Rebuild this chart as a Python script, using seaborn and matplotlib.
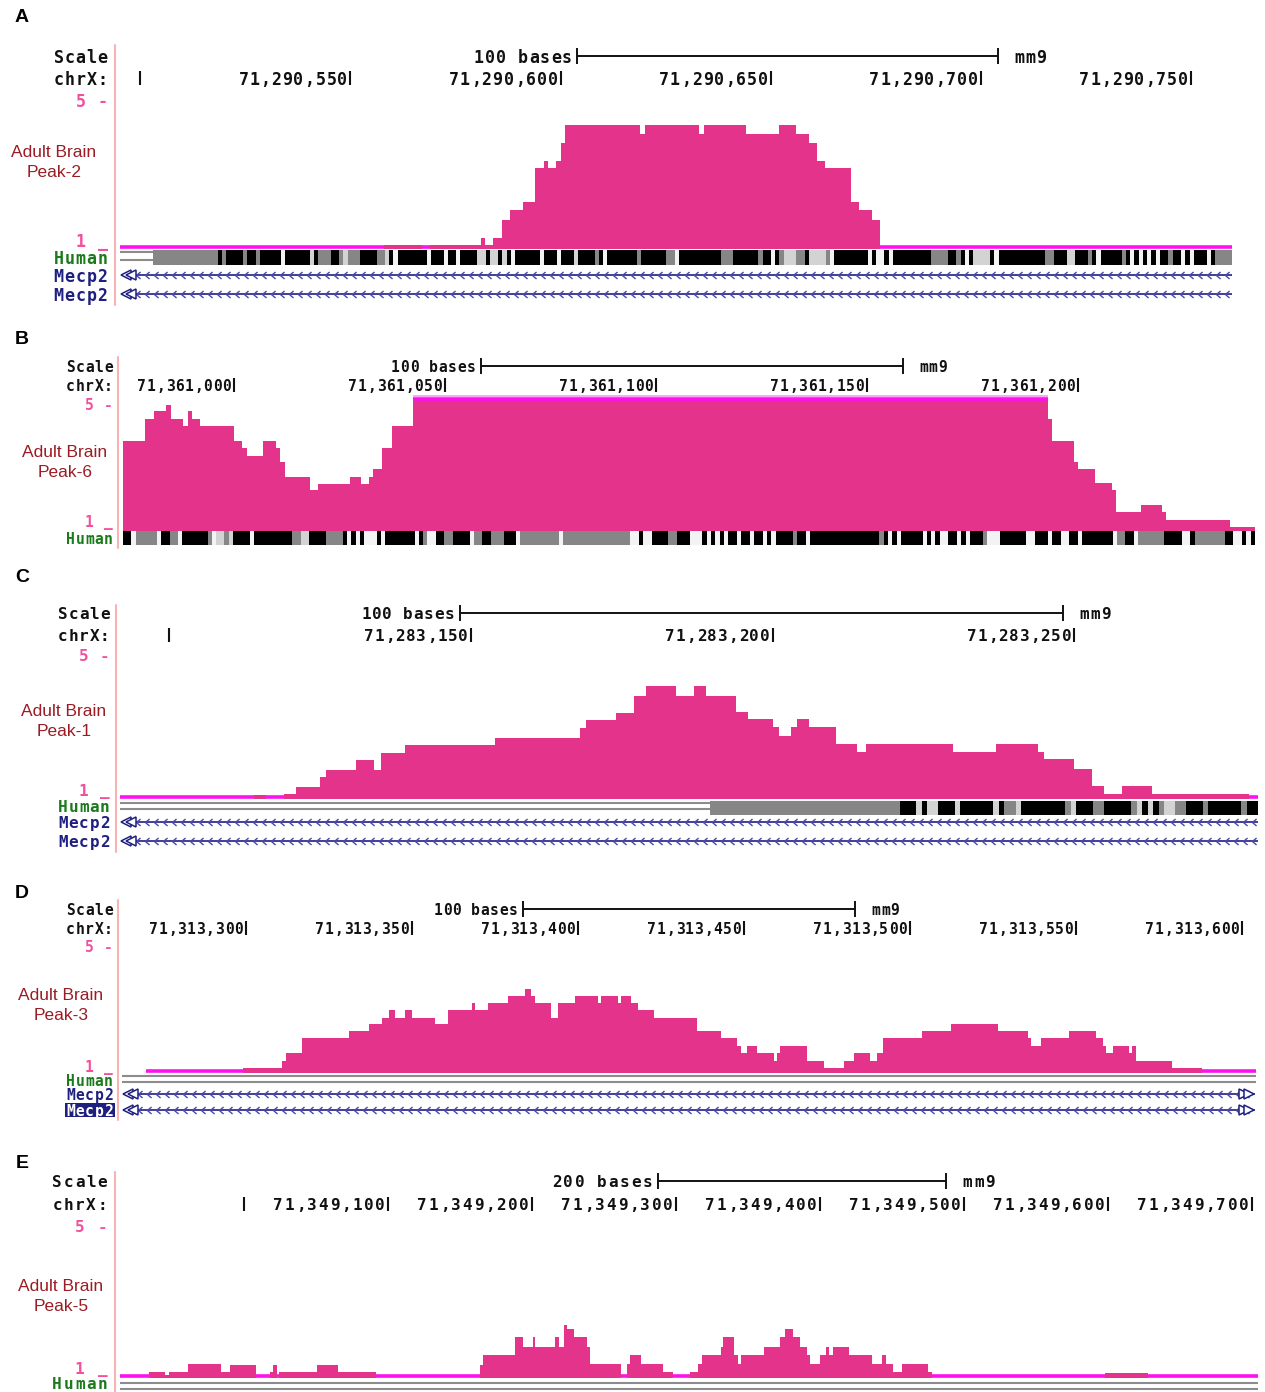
import numpy as np
import pandas as pd
import matplotlib
matplotlib.use("Agg")
import matplotlib.pyplot as plt
import matplotlib.transforms as mtransforms
from matplotlib.lines import Line2D
from matplotlib.patches import Rectangle
from matplotlib.path import Path
import seaborn as sns

# ---------------------------------------------------------------- data
# Step-wise coverage: bin edges (bp offset from each panel's origin) and bin values.
# Values below 1 sit under the track floor, values above 5 are clipped at the top.
A_ORIGIN = 71_290_000
A_VIEW = (495.2, 759.7)
A_EDGES = [495.2, 558, 567, 569, 581, 582, 584, 586, 588, 591, 594, 596, 597, 599, 600,
           601, 619, 620, 633, 634, 644, 652, 656, 659, 661, 663, 669, 671, 674, 676, 759.7]
A_VALUES = [0.6, 1.07, 0.6, 1.07, 1.28, 1.07, 1.28, 1.76, 2.03, 2.25, 3.15, 3.36, 3.15, 3.36,
            3.85, 4.32, 4.09, 4.32, 4.09, 4.32, 4.09, 4.32, 4.09, 3.85, 3.36, 3.15, 2.25, 2.03,
            1.76, 0.6]
A_TICKS = [500, 550, 600, 650, 700, 750]
A_TICK_LABELED = [False, True, True, True, True, True]
A_SCALE = (604, 100)
A_HUMAN = [
    (495.2, 503, "="),
    (503, 518.5, "g"),
    (518.5, 568.2, "kgkkkkgkkgkkkkkwkkkkkklkgggkkglgggkkkkgglkwkkkkkkk"),
    (568.2, 681, "wkkkwkkwkkkkllkllklkwkkkkkkwkkkwkkklkkkkgkwkkkkkkkgkkkkkkggwkkkkkkkkkk"
                 "gggkkkkkkgkkwkglllggkllllgwkkkkkkkkwkwwkwkk"),
    (681, 759.7, "kkkkkkkggggkkgkwkllllkwkkkkkkkkkkkggkkkllkkkgkwkkkkkgkwkwkwkwkkgkkwkwkkkwkgggg"),
]

B_ORIGIN = 71_360_000
B_VIEW = (973.7, 1242.0)
B_EDGES = [973.7, 979, 981, 984, 985, 988, 989, 990, 992, 1000, 1002, 1003, 1007, 1010, 1011,
           1012, 1018, 1020, 1027.5, 1030, 1032, 1033, 1035, 1037.5, 1042.5, 1193, 1194, 1199,
           1200, 1204, 1208, 1209, 1215, 1220, 1221, 1236, 1242]
B_VALUES = [3.70, 4.35, 4.60, 4.80, 4.35, 4.15, 4.60, 4.35, 4.15, 3.70, 3.50, 3.25, 3.70, 3.50,
            3.07, 2.60, 2.20, 2.40, 2.60, 2.40, 2.60, 2.85, 3.50, 4.15, 5.60, 4.37, 3.71, 3.06,
            2.86, 2.41, 2.21, 1.55, 1.75, 1.55, 1.30, 1.10]
B_TICKS = [1000, 1050, 1100, 1150, 1200]
B_TICK_LABELED = [True, True, True, True, True]
B_SCALE = (1058.5, 100)
B_HUMAN = [
    (973.7, 1111, "kkwgggggwkkggwkkkkkkgwllglkkkkwkkkkkkkkkggllkkkkggggkwkwkwwwkwkkkkkkkwkgwwkkgg"
                  "kkkkwggkkgggkkkwgggggggggwggggggggggggggggwwkwwkkkkggkkkwww"),
    (1111, 1242, "kwkwkwkkwkkwkkwkwkkkkgkkwkkkkkkkkkkkkkkkkgkwkwkkkkkwkwkwwkkwkwkkkgwwwkkkkkkww"
                 "kkkwkkwwkkwkkkkkkkwggkkwggggggkkkkwwkgggggggkkwwkwk"),
]

C_ORIGIN = 71_283_000
C_VIEW = (91.8, 280.5)
C_EDGES = [91.8, 114, 116, 119, 121, 125, 126, 131, 134, 135, 139, 154, 168, 169, 174, 177,
           179, 184, 187, 189, 194, 196, 200, 201, 203, 204, 206, 210.5, 214, 215.5, 230, 237,
           244, 245, 250, 253, 255, 258, 263, 279, 280.5]
C_VALUES = [0.6, 1.08, 0.6, 1.10, 1.32, 1.59, 1.79, 2.05, 1.79, 2.27, 2.48, 2.68, 2.96, 3.17,
            3.39, 3.85, 4.13, 3.86, 4.13, 3.86, 3.40, 3.21, 2.99, 2.73, 2.99, 3.21, 2.99, 2.51,
            2.30, 2.51, 2.30, 2.51, 2.30, 2.09, 1.82, 1.33, 1.12, 1.33, 1.12, 0.6]
C_TICKS = [100, 150, 200, 250]
C_TICK_LABELED = [False, True, True, True]
C_SCALE = (148.2, 100)
C_HUMAN = [
    (91.8, 189.6, "="),
    (189.6, 221.1, "g"),
    (221.1, 280.5, "kkklkllkkklkkkkkklkgglkkkkkkkkglkkkggkkkkkglklkgllggkkkgkkkkkkgkk"),
]

D_ORIGIN = 71_313_000
D_VIEW = (262.7, 604.2)
D_EDGES = [269.9, 299, 311, 312, 317, 331, 337, 341, 343, 345, 348, 350, 357, 361, 368, 369,
           373, 379, 384, 386, 387, 392, 394, 399, 406, 407, 412, 413, 416, 418, 423, 436, 443,
           448, 449, 451, 454, 459, 460, 461, 469, 474, 480, 483, 488, 490, 492, 503.5, 512.5,
           526.5, 535.5, 536.5, 539.5, 548, 556, 558, 559, 561, 566, 567, 568, 579, 588, 604.2]
D_VALUES = [0.6, 1.13, 1.35, 1.62, 2.08, 2.30, 2.52, 2.73, 2.98, 2.73, 2.98, 2.73, 2.52, 2.98,
            3.22, 2.98, 3.22, 3.43, 3.67, 3.43, 3.22, 2.73, 3.22, 3.43, 3.22, 3.43, 3.22, 3.43,
            3.22, 2.98, 2.73, 2.30, 2.08, 1.83, 1.62, 1.82, 1.62, 1.36, 1.62, 1.82, 1.36, 1.14,
            1.36, 1.62, 1.36, 1.62, 2.09, 2.31, 2.53, 2.31, 2.09, 1.84, 2.09, 2.31, 2.09, 1.84,
            1.62, 1.82, 1.62, 1.82, 1.36, 1.14, 0.6]
D_TICKS = [300, 350, 400, 450, 500, 550, 600]
D_TICK_LABELED = [True] * 7
D_SCALE = (383.5, 100)
D_HUMAN = [(262.7, 604.2, "=")]

E_ORIGIN = 71_349_000
E_VIEW = (-86.1, 704.2)
E_EDGES = [-86.1, -66, -55, -52, -39, -16, -10, 8, 18, 20, 23, 24, 51, 65, 92, 164, 166, 188,
           194, 201, 202, 216, 219, 222, 224, 229, 238, 240, 262, 266, 268, 276, 291, 298, 310,
           315, 318, 331, 333, 340, 343, 345, 361, 372, 376, 381, 386, 391, 393, 400, 404, 406,
           409, 420, 436, 443, 446, 451, 457, 475, 478, 598, 628, 704.2]
E_VALUES = [0.6, 1.12, 1.04, 1.12, 1.34, 1.12, 1.32, 0.6, 1.12, 1.32, 0.6, 1.12, 1.32, 1.12,
            0.6, 1.32, 1.59, 2.06, 1.79, 2.06, 1.79, 2.06, 1.79, 2.39, 2.27, 2.06, 1.79, 1.34,
            0.6, 1.34, 1.59, 1.34, 1.12, 0.6, 1.12, 1.34, 1.59, 1.79, 2.06, 1.59, 1.34, 1.59,
            1.79, 2.06, 2.27, 2.06, 1.79, 1.59, 1.34, 1.59, 1.79, 1.59, 1.79, 1.59, 1.34, 1.59,
            1.34, 1.12, 1.34, 1.12, 0.6, 1.11, 0.6]
E_TICKS = [0, 100, 200, 300, 400, 500, 600, 700]
E_TICK_LABELED = [False] + [True] * 7
E_SCALE = (287.5, 200)
E_HUMAN = [(-86.1, 704.2, "=")]

TRACK_NAMES = ["Adult Brain\nPeak-2", "Adult Brain\nPeak-6", "Adult Brain\nPeak-1",
               "Adult Brain\nPeak-3", "Adult Brain\nPeak-5"]
PANEL_LETTERS = ["A", "B", "C", "D", "E"]

# ---------------------------------------------------------------- style
W, H = 1265, 1392
sns.set_theme(style="white")
plt.rcParams["font.family"] = ["Liberation Sans", "DejaVu Sans"]

SIGNAL = "#e3338a"
CLIP = "#ff10f0"
NUM_PINK = "#f0509c"
RULE_PINK = "#f8b4b4"
GREEN = "#1c7a1c"
NAVY = "#1f1f80"
CHEV = "#4a4aa8"
DARKRED = "#9b1c24"
INK = "#111111"
SHADES = {"k": "#000000", "g": "#868686", "l": "#d3d3d3", "w": "#f3f3f3"}
MONO = "DejaVu Sans Mono"

fig = plt.figure(figsize=(W / 100, H / 100), dpi=100)
fig.patch.set_facecolor("white")


def frac(x, y):
    return x / W, 1 - y / H


def add_box(x0, y0, x1, y1, z=1):
    ax = fig.add_axes([x0 / W, 1 - y1 / H, (x1 - x0) / W, (y1 - y0) / H], zorder=z)
    ax.patch.set_visible(False)
    return ax


def mono(base, x, y, s, pitch, size, color, align="right", gap=0.0):
    """Fixed-pitch text, one glyph per cell, anchored at (x, y) in `base`."""
    n = len(s)
    if align == "right":
        start = -n * pitch - gap
    elif align == "left":
        start = gap
    else:
        start = -n * pitch / 2
    for i, ch in enumerate(s):
        if ch == " ":
            continue
        tr = mtransforms.offset_copy(base, fig=fig, x=start + (i + 0.5) * pitch, y=-1.8,
                                     units="dots")
        fig.text(x, y, ch, transform=tr, ha="center", va="center", fontsize=size,
                 family=MONO, fontweight="bold", color=color)


def runs(pattern):
    out, i = [], 0
    while i < len(pattern):
        j = i
        while j < len(pattern) and pattern[j] == pattern[i]:
            j += 1
        out.append((i, j, pattern[i]))
        i = j
    return out


def coverage(ax, edges, vals):
    """Filled step histogram of the coverage bins."""
    df = pd.DataFrame({"pos": (edges[:-1] + edges[1:]) / 2, "cov": vals})
    try:
        sns.histplot(data=df, x="pos", weights="cov", bins=list(edges), element="step",
                     fill=True, color=SIGNAL, alpha=1.0, linewidth=0, ax=ax)
    except Exception:
        ax.fill_between(edges, np.append(vals, vals[-1]), 0, step="post", color=SIGNAL,
                        linewidth=0)


CHEVRON = Path([(0.6, 1.0), (-0.6, 0.0), (0.6, -1.0)],
               [Path.MOVETO, Path.LINETO, Path.LINETO])

PANELS = [
    dict(origin=A_ORIGIN, view=A_VIEW, edges=A_EDGES, values=A_VALUES, ticks=A_TICKS,
         labeled=A_TICK_LABELED, scale=A_SCALE, human=A_HUMAN,
         x0=120, x1=1232, top=40, bottom=305, scale_y=56, chrx_y=78, sig=(100, 248),
         human_y=(250, 265), dbl=(256, 4), genes=[275, 294], gene_right=False,
         lab_x=108, pitch=11.0, size=11.5, five_y=100, one_y=240, human_lab=257,
         name_xy=(54, 152), letter_y=18, rule=(115, 45, 305), highlight=False),
    dict(origin=B_ORIGIN, view=B_VIEW, edges=B_EDGES, values=B_VALUES, ticks=B_TICKS,
         labeled=B_TICK_LABELED, scale=B_SCALE, human=B_HUMAN,
         x0=123, x1=1255, top=355, bottom=550, scale_y=366, chrx_y=385, sig=(398, 530),
         human_y=(531, 545), dbl=(538, 3), genes=[], gene_right=False,
         lab_x=113, pitch=9.45, size=10.0, five_y=404, one_y=521, human_lab=538,
         name_xy=(65, 452), letter_y=340, rule=(118, 357, 548), highlight=False),
    dict(origin=C_ORIGIN, view=C_VIEW, edges=C_EDGES, values=C_VALUES, ticks=C_TICKS,
         labeled=C_TICK_LABELED, scale=C_SCALE, human=C_HUMAN,
         x0=120, x1=1258, top=600, bottom=855, scale_y=613, chrx_y=635, sig=(655, 798),
         human_y=(801, 815), dbl=(806.3, 3), genes=[822, 841], gene_right=False,
         lab_x=110, pitch=10.5, size=11.0, five_y=655, one_y=790, human_lab=806,
         name_xy=(64, 711), letter_y=577, rule=(116, 605, 852), highlight=False),
    dict(origin=D_ORIGIN, view=D_VIEW, edges=D_EDGES, values=D_VALUES, ticks=D_TICKS,
         labeled=D_TICK_LABELED, scale=D_SCALE, human=D_HUMAN,
         x0=122, x1=1256, top=898, bottom=1122, scale_y=909, chrx_y=928, sig=(947, 1072),
         human_y=(1075, 1083), dbl=(1079, 3), genes=[1094, 1110], gene_right=True,
         lab_x=113, pitch=9.45, size=10.0, five_y=946, one_y=1066, human_lab=1080,
         name_xy=(61, 995), letter_y=893, rule=(118, 900, 1120), highlight=True),
    dict(origin=E_ORIGIN, view=E_VIEW, edges=E_EDGES, values=E_VALUES, ticks=E_TICKS,
         labeled=E_TICK_LABELED, scale=E_SCALE, human=E_HUMAN,
         x0=120, x1=1258, top=1170, bottom=1392, scale_y=1181, chrx_y=1204, sig=(1226, 1377),
         human_y=(1382, 1391), dbl=(1386, 3), genes=[], gene_right=False,
         lab_x=108, pitch=11.3, size=11.0, five_y=1226, one_y=1368, human_lab=1383,
         name_xy=(61, 1286), letter_y=1163, rule=(115, 1172, 1392), highlight=False),
]

for p, name, letter in zip(PANELS, TRACK_NAMES, PANEL_LETTERS):
    v0, v1 = p["view"]
    x0, x1 = p["x0"], p["x1"]
    bp_per_px = (v1 - v0) / (x1 - x0)

    def px_to_bp(px):
        return v0 + (px - x0) * bp_per_px

    # ---- coverage track
    st, sb = p["sig"]
    ppu = (sb - st) / 4.0
    ax_s = add_box(x0, st, x1, sb, z=2)
    edges = np.asarray(p["edges"], dtype=float)
    vals = np.asarray(p["values"], dtype=float)
    assert len(edges) == len(vals) + 1
    coverage(ax_s, edges, vals)
    ax_s.set_xlim(v0, v1)
    ax_s.set_ylim(1, 5)
    ax_s.axis("off")
    low = vals < 1
    if low.any():
        ax_s.hlines(np.full(low.sum(), 1 + 1.3 / ppu), edges[:-1][low], edges[1:][low],
                    color=CLIP, lw=2.6, clip_on=False)
    high = vals > 5
    if high.any():
        ax_s.hlines(np.full(high.sum(), 5 + 1.8 / ppu), edges[:-1][high], edges[1:][high],
                    color="#ff9df5", lw=1.3, clip_on=False)
        ax_s.hlines(np.full(high.sum(), 5 - 0.6 / ppu), edges[:-1][high], edges[1:][high],
                    color=CLIP, lw=2.6, clip_on=False)

    # ---- ruler, conservation and gene tracks (y in pixel rows)
    ax = add_box(x0, p["top"], x1, p["bottom"], z=1)
    ax.set_xlim(v0, v1)
    ax.set_ylim(p["bottom"], p["top"])
    ax.axis("off")

    pitch, size = p["pitch"], p["size"] + 0.5
    cy = p["chrx_y"]
    ax.vlines(p["ticks"], cy - 7, cy + 7, color=INK, lw=1.5)
    for t, lab in zip(p["ticks"], p["labeled"]):
        if lab:
            mono(ax.transData, t, cy, f"{p['origin'] + t:,}", pitch, size, INK,
                 align="right", gap=2.5)

    sy = p["scale_y"]
    s0, slen = p["scale"]
    ax.hlines(sy, s0, s0 + slen, color=INK, lw=1.4)
    ax.vlines([s0, s0 + slen], sy - 8, sy + 8, color=INK, lw=1.4)
    mono(ax.transData, s0, sy, f"{slen} bases", pitch, size, INK, align="right", gap=5)
    mono(ax.transData, s0 + slen, sy, "mm9", pitch, size, INK, align="left", gap=16)

    hy0, hy1 = p["human_y"]
    dyc, dgap = p["dbl"]
    for a, b, pat in p["human"]:
        step = (b - a) / len(pat)
        for i, j, ch in runs(pat):
            xa, xb = a + i * step, a + j * step
            if ch == "=":
                ax.hlines([dyc - dgap, dyc + dgap], xa, xb, color="#8c8c8c", lw=1.5)
            else:
                ax.broken_barh([(xa, xb - xa)], (hy0, hy1 - hy0), facecolors=SHADES[ch],
                               linewidth=0)

    for gy in p["genes"]:
        g0 = px_to_bp(x0 + 4)
        ax.hlines(gy, g0, v1 - 0.5 * bp_per_px, color=NAVY, lw=1.2)
        chev_x = np.arange(px_to_bp(x0 + 18), v1 - 4 * bp_per_px, 9 * bp_per_px)
        ax.plot(chev_x, np.full(len(chev_x), gy), ls="none", marker=CHEVRON, ms=5,
                mfc="none", mec=CHEV, mew=1.0)
        ax.plot([px_to_bp(x0 + 6), px_to_bp(x0 + 11)], [gy, gy], ls="none", marker="<",
                ms=7.5, mfc="white", mec=NAVY, mew=1.1)
        if p["gene_right"]:
            ax.plot([px_to_bp(x1 - 12), px_to_bp(x1 - 7)], [gy, gy], ls="none", marker=">",
                    ms=7.5, mfc="white", mec=NAVY, mew=1.1)

    # ---- left-hand labels
    lx = p["lab_x"]
    mono(fig.transFigure, *frac(lx, sy), "Scale", pitch, size, INK)
    mono(fig.transFigure, *frac(lx, cy), "chrX:", pitch, size, INK)
    mono(fig.transFigure, *frac(lx, p["five_y"]), "5 -", pitch, size, NUM_PINK)
    mono(fig.transFigure, *frac(lx, p["one_y"]), "1 _", pitch, size, NUM_PINK)
    mono(fig.transFigure, *frac(lx, p["human_lab"]), "Human", pitch, size, GREEN)
    for k, gy in enumerate(p["genes"]):
        if p["highlight"] and k == 1:
            fig.add_artist(Rectangle(frac(lx - 5 * pitch - 1, gy + 7), (5 * pitch + 3) / W,
                                     14 / H, transform=fig.transFigure, color=NAVY, lw=0))
            mono(fig.transFigure, *frac(lx, gy), "Mecp2", pitch, size, "white")
        else:
            mono(fig.transFigure, *frac(lx, gy), "Mecp2", pitch, size, NAVY)

    nx, ny = p["name_xy"]
    fig.text(*frac(nx, ny + 10.5), name, ha="center", va="center", fontsize=12.5,
             color=DARKRED, linespacing=1.45)
    fig.text(*frac(22, p["letter_y"]), letter, ha="center", va="center", fontsize=14,
             fontweight="bold", color="black")

    rx, ry0, ry1 = p["rule"]
    fig.add_artist(Line2D([rx / W, rx / W], [1 - ry0 / H, 1 - ry1 / H], color=RULE_PINK,
                          lw=1.5))

fig.savefig("out.png", dpi=100, facecolor="white")
